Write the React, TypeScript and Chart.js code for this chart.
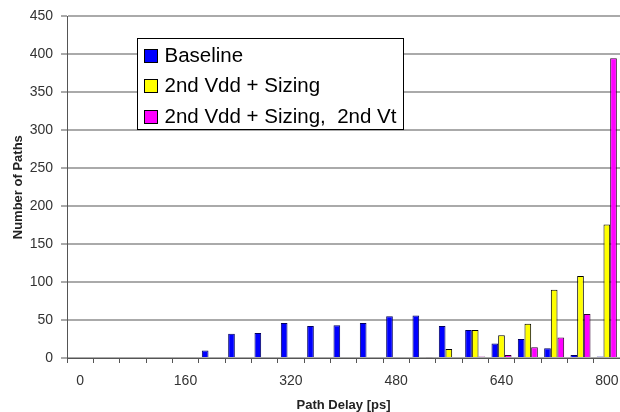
import React, { useEffect, useRef } from 'react';
import { Chart, registerables } from 'chart.js';

Chart.register(...registerables);

// Path delay categories (ps)
const categories = ['0', '40', '80', '120', '160', '200', '240', '280', '320', '360', '400', '440', '480', '520', '560', '600', '640', '680', '720', '760', '800'];
const xTickLabels = ['0', '160', '320', '480', '640', '800'];

const seriesLabels = ['Baseline', '2nd Vdd + Sizing', '2nd Vdd + Sizing,  2nd Vt'];
const baseline = [0, 0, 0, 0, 0, 10, 32, 33, 46, 42, 43, 46, 55, 56, 42, 37, 19, 25, 13, 4, 2];
const vddSizing = [0, 0, 0, 0, 0, 0, 0, 0, 0, 0, 0, 0, 0, 0, 12, 37, 30, 45, 90, 108, 176];
const vddSizingVt = [0, 0, 0, 0, 0, 0, 0, 0, 0, 0, 0, 0, 0, 1, 0, 2, 4, 14, 27, 58, 395];

const yMin = 0;
const yMax = 450;
const yStep = 50;

const FONT = '"Liberation Sans", Arial, Helvetica, sans-serif';

const boxLegend = {
  id: 'boxLegend',
  afterDraw(chart: any) {
    const ctx = chart.ctx;
    const x = 137.5, y = 38.5, w = 266, h = 91;
    ctx.save();
    ctx.fillStyle = '#ffffff';
    ctx.fillRect(x, y, w, h);
    ctx.strokeStyle = '#000000';
    ctx.lineWidth = 1;
    ctx.strokeRect(x, y, w, h);
    ctx.font = `20.5px ${FONT}`;
    ctx.textBaseline = 'middle';
    ctx.textAlign = 'left';
    chart.data.datasets.forEach((ds: any, i: number) => {
      const cy = 55 + i * 30.5;
      ctx.fillStyle = ds.backgroundColor;
      ctx.fillRect(144.5, Math.round(cy - 6.5) + 0.5, 13, 13);
      ctx.strokeStyle = '#000000';
      ctx.strokeRect(144.5, Math.round(cy - 6.5) + 0.5, 13, 13);
      ctx.fillStyle = '#000000';
      ctx.fillText(ds.label, 164.5, cy + 1);
    });
    ctx.restore();
  },
};

export default function App() {
  const canvasRef = useRef<HTMLCanvasElement | null>(null);

  useEffect(() => {
    if (!canvasRef.current) return;
    const chart = new Chart(canvasRef.current, {
      type: 'bar',
      data: {
        labels: categories,
        datasets: [
          { label: seriesLabels[0], data: baseline, backgroundColor: '#0000ff', borderColor: '#000060', borderWidth: 1, borderSkipped: 'start' },
          { label: seriesLabels[1], data: vddSizing, backgroundColor: '#ffff00', borderColor: '#000000', borderWidth: 1, borderSkipped: 'start' },
          { label: seriesLabels[2], data: vddSizingVt, backgroundColor: '#ff00ff', borderColor: '#300030', borderWidth: 1, borderSkipped: 'start' },
        ],
      },
      options: {
        responsive: false,
        animation: false,
        devicePixelRatio: 1,
        layout: { padding: { top: 16, right: 0, left: 0, bottom: 0 } },
        datasets: { bar: { categoryPercentage: 0.76, barPercentage: 1 } },
        plugins: {
          legend: { display: false },
          tooltip: { enabled: false },
        },
        scales: {
          x: {
            type: 'category',
            offset: true,
            grid: { offset: true, drawOnChartArea: false, drawTicks: true, tickLength: 5, color: '#555', lineWidth: 1 },
            border: { display: true, color: '#555', width: 1 },
            ticks: {
              autoSkip: false,
              maxRotation: 0,
              minRotation: 0,
              color: '#333',
              font: { family: FONT, size: 14 },
              padding: 10,
              callback: (_v: any, i: number) => (xTickLabels.includes(categories[i]) ? categories[i] : ''),
            },
            title: {
              display: true,
              text: 'Path Delay [ps]',
              color: '#222',
              font: { family: FONT, size: 13, weight: 'bold', lineHeight: 1 },
              padding: 0,
            },
            afterFit: (s: any) => { s.height = 54; s.paddingLeft = 0; s.paddingRight = 0; },
          },
          y: {
            min: yMin,
            max: yMax,
            ticks: { stepSize: yStep, color: '#333', font: { family: FONT, size: 14 }, padding: 8 },
            grid: { color: '#aaaaaa', lineWidth: 2, tickLength: 6, tickColor: '#555', tickWidth: 1 },
            border: { display: true, color: '#555', width: 1 },
            title: {
              display: true,
              text: 'Number of Paths',
              color: '#222',
              font: { family: FONT, size: 13, weight: 'bold', lineHeight: 1.2 },
              padding: { top: 11, bottom: 0 },
            },
            afterFit: (s: any) => { s.width = 67; },
          },
        },
      },
      plugins: [boxLegend],
    } as any);
    return () => chart.destroy();
  }, []);

  return (
    <div style={{ position: 'fixed', left: 0, top: 0, width: 620, height: 412, background: '#fff' }}>
      <canvas ref={canvasRef} width={620} height={412} style={{ display: 'block', width: 620, height: 412 }} />
    </div>
  );
}
